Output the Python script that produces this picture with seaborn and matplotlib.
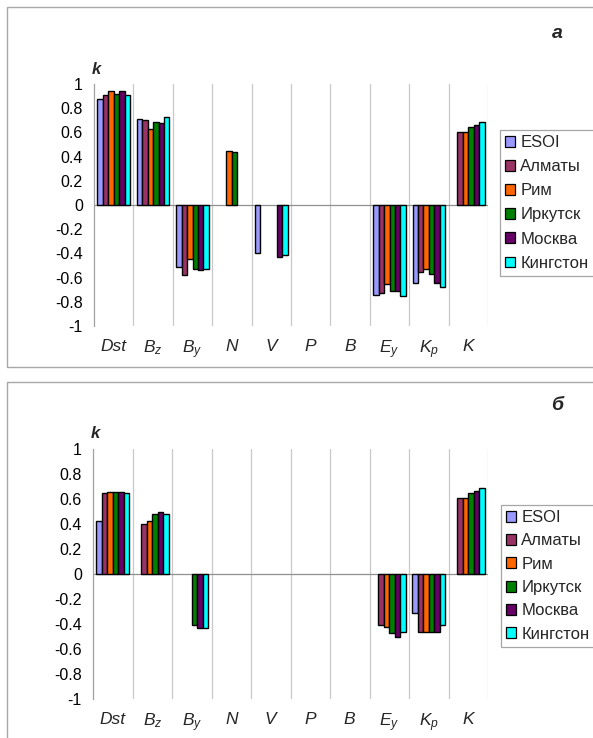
import matplotlib
matplotlib.use("Agg")
import matplotlib.pyplot as plt
from matplotlib.patches import Patch, Rectangle
from matplotlib.ticker import FuncFormatter, MultipleLocator
import numpy as np
import pandas as pd
import seaborn as sns


PARAMS = ["Dst", "Bz", "By", "N", "V", "P", "B", "Ey", "Kp", "K"]
PARAM_LABELS = ["Dst", r"$B_z$", r"$B_y$", "N", "V", "P", "B", r"$E_y$", r"$K_p$", "K"]
STATIONS = ["ESOI", "Алматы", "Рим", "Иркутск", "Москва", "Кингстон"]
COLORS = ["#9999ff", "#993366", "#ff6600", "#008000", "#660066", "#00ffff"]

nan = np.nan

# панель а: коэффициенты k по станциям (порядок STATIONS)
A_DST = [0.88, 0.91, 0.945, 0.92, 0.945, 0.91]
A_BZ = [0.71, 0.70, 0.63, 0.69, 0.68, 0.73]
A_BY = [-0.51, -0.58, -0.45, -0.525, -0.54, -0.525]
A_N = [nan, nan, 0.45, 0.44, nan, nan]
A_V = [-0.40, nan, nan, nan, -0.43, -0.41]
A_P = [nan] * 6
A_B = [nan] * 6
A_EY = [-0.74, -0.73, -0.655, -0.71, -0.71, -0.755]
A_KP = [-0.645, -0.555, -0.53, -0.57, -0.645, -0.675]
A_K = [nan, 0.605, 0.605, 0.645, 0.66, 0.685]

# панель б
B_DST = [0.425, 0.645, 0.66, 0.655, 0.655, 0.645]
B_BZ = [nan, 0.40, 0.425, 0.48, 0.495, 0.48]
B_BY = [nan, nan, nan, -0.41, -0.43, -0.43]
B_N = [nan] * 6
B_V = [nan] * 6
B_P = [nan] * 6
B_B = [nan] * 6
B_EY = [nan, -0.41, -0.42, -0.47, -0.50, -0.465]
B_KP = [-0.31, -0.46, -0.465, -0.46, -0.46, -0.41]
B_K = [nan, 0.605, 0.605, 0.645, 0.665, 0.685]

PANEL_A = [A_DST, A_BZ, A_BY, A_N, A_V, A_P, A_B, A_EY, A_KP, A_K]
PANEL_B = [B_DST, B_BZ, B_BY, B_N, B_V, B_P, B_B, B_EY, B_KP, B_K]


def to_long(panel):
    rows = []
    for param, vals in zip(PARAMS, panel):
        for station, v in zip(STATIONS, vals):
            if not np.isnan(v):
                rows.append({"param": param, "station": station, "k": v})
    return pd.DataFrame(rows)


def fmt_tick(v, pos):
    if abs(v) < 1e-9:
        return "0"
    return f"{round(v, 1):g}"


def draw_panel(fig, rect, panel, legend_anchor, legend_spacing):
    ax = fig.add_axes(rect)
    df = to_long(panel)
    sns.barplot(data=df, x="param", y="k", hue="station", order=PARAMS, hue_order=STATIONS,
                palette=COLORS, width=0.83, errorbar=None, saturation=1,
                edgecolor="black", linewidth=1.0, legend=False, ax=ax, zorder=3)
    ax.set_xlim(-0.5, len(PARAMS) - 0.5)
    ax.set_ylim(-1, 1)
    for i in range(len(PARAMS)):
        ax.axvline(i + 0.5, color="#c8c8c8", lw=0.9, zorder=1)
    ax.axhline(0, color="#909090", lw=0.9, zorder=2)

    for side in ("top", "right", "bottom"):
        ax.spines[side].set_visible(False)
    ax.spines["left"].set_color("#a0a0a0")
    ax.spines["left"].set_linewidth(0.9)

    ax.yaxis.set_major_locator(MultipleLocator(0.2))
    ax.yaxis.set_major_formatter(FuncFormatter(fmt_tick))
    ax.tick_params(axis="y", direction="out", length=4, width=0.9, color="#a0a0a0",
                   labelsize=11.5, pad=4, labelcolor="black")
    ax.set_xticks(range(len(PARAMS)))
    ax.set_xticklabels(PARAM_LABELS, fontstyle="italic", fontsize=12.5)
    ax.tick_params(axis="x", length=0, pad=9)
    ax.set_xlabel("")
    ax.set_ylabel("")
    ax.text(-0.45, 1.12, "k", transform=ax.transData, ha="center", va="center",
            fontsize=12, fontweight="bold", fontstyle="italic")

    handles = [Patch(facecolor=c, edgecolor="black", linewidth=0.9) for c in COLORS]
    leg = fig.legend(handles, STATIONS, loc="upper left", bbox_to_anchor=legend_anchor,
                     frameon=True, fancybox=False, fontsize=12, handlelength=0.62,
                     handleheight=0.62, handletextpad=0.3, labelspacing=legend_spacing,
                     borderpad=0.3, borderaxespad=0)
    leg.get_frame().set_edgecolor("#909090")
    leg.get_frame().set_linewidth(0.9)
    return ax


sns.set_theme(style="white")
plt.rcParams["font.family"] = ["Liberation Sans", "DejaVu Sans"]
plt.rcParams["mathtext.fontset"] = "custom"
plt.rcParams["mathtext.it"] = "Liberation Sans:italic"
plt.rcParams["mathtext.rm"] = "Liberation Sans"

W, H = 593, 738
fig = plt.figure(figsize=(W / 100, H / 100), dpi=100)


def fx(px):
    return px / W


def fy(py):
    return 1 - py / H


# рамки панелей
fig.patches.append(Rectangle((fx(7), fy(367)), fx(640) - fx(7), fy(7) - fy(367),
                             transform=fig.transFigure, fill=False, edgecolor="#a8a8a8", lw=1.0))
fig.patches.append(Rectangle((fx(7), fy(800)), fx(640) - fx(7), fy(382) - fy(800),
                             transform=fig.transFigure, fill=False, edgecolor="#a8a8a8", lw=1.0))

draw_panel(fig, [fx(94), fy(326), fx(488) - fx(94), fy(84) - fy(326)], PANEL_A,
           (fx(500), fy(130)), 0.55)
draw_panel(fig, [fx(93), fy(699), fx(488) - fx(93), fy(449) - fy(699)], PANEL_B,
           (fx(501), fy(505)), 0.5)

fig.text(fx(557), fy(33), "а", ha="center", va="center", fontsize=14,
         fontweight="bold", fontstyle="italic")
fig.text(fx(557), fy(405), "б", ha="center", va="center", fontsize=14,
         fontweight="bold", fontstyle="italic")

fig.savefig("out.png", dpi=100)
plt.close(fig)
